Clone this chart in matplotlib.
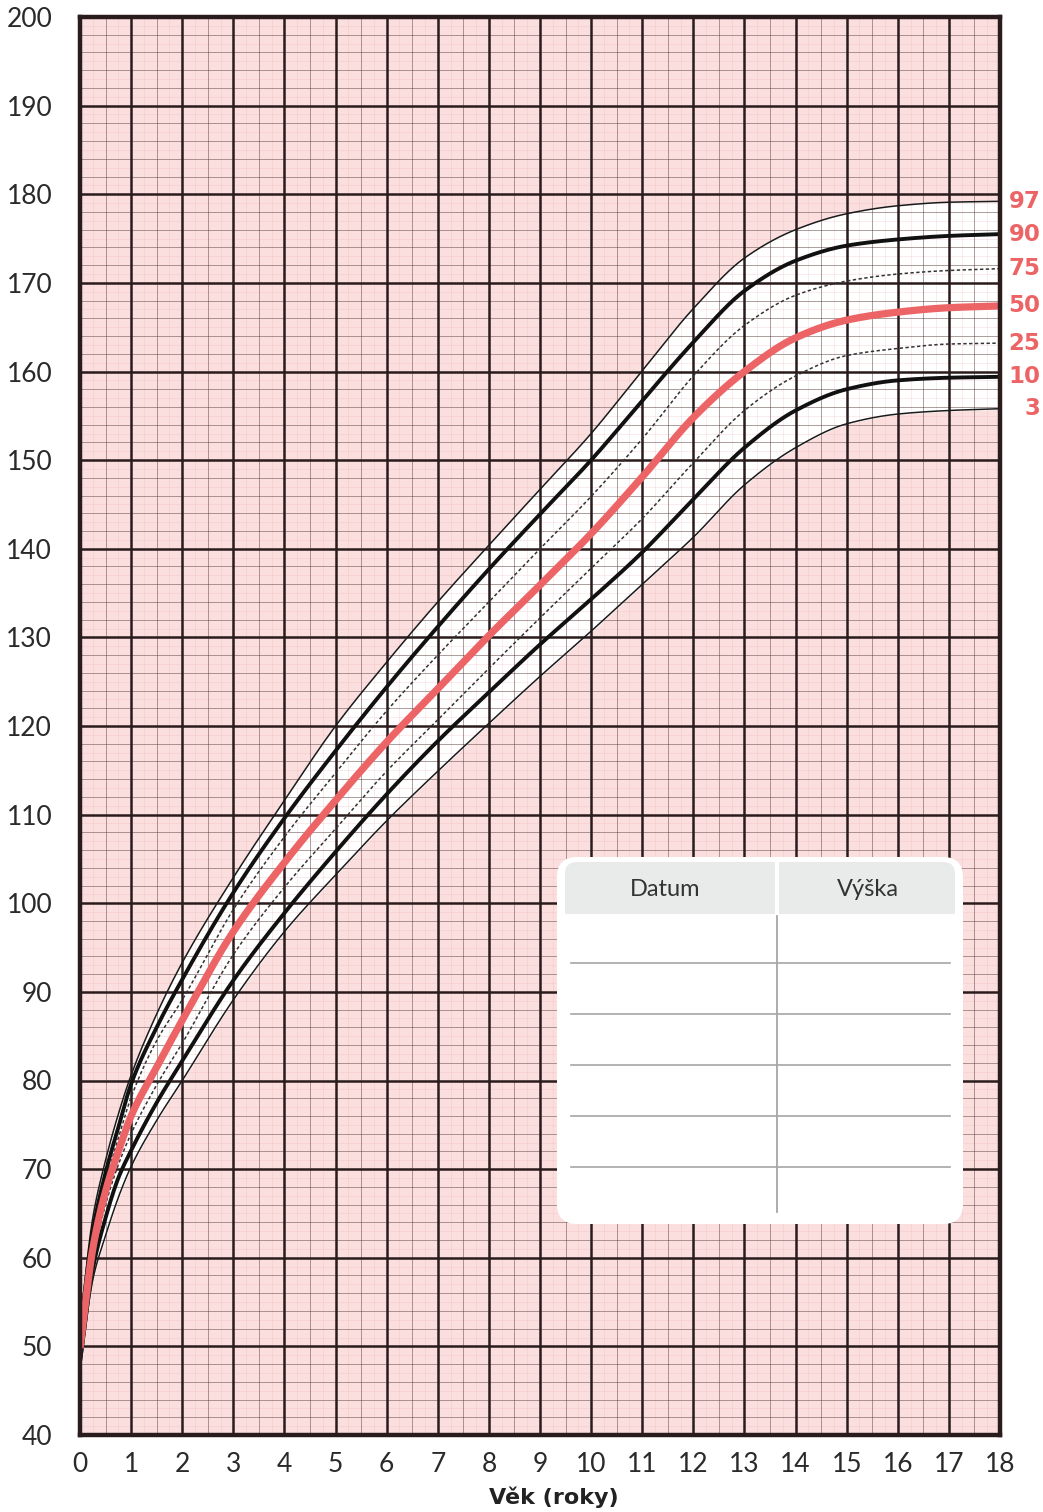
import numpy as np
import matplotlib.pyplot as plt
from matplotlib.patches import FancyBboxPatch, Rectangle

# percentile data (girls, height in cm)
ages = [0, 0.25, 0.5, 0.75, 1, 1.5, 2, 3, 4, 5, 6, 7, 8, 9, 10, 11, 12, 13, 14, 15, 16, 17, 18]
p97 = [52.5, 64.5, 71.0, 76.2, 80.6, 87.5, 93.3, 102.9, 111.6, 120.0, 127.2, 134.0, 140.4, 146.7, 153.0, 160.1, 167.1, 172.8, 176.0, 177.8, 178.7, 179.1, 179.2]
p90 = [51.5, 63.0, 69.6, 74.7, 79.6, 86.0, 91.4, 101.2, 109.6, 117.2, 124.4, 131.2, 137.7, 143.9, 150.0, 156.7, 163.3, 169.1, 172.5, 174.2, 174.9, 175.3, 175.5]
p75 = [50.8, 62.0, 68.5, 73.5, 78.1, 84.5, 89.1, 99.3, 107.5, 114.7, 121.7, 128.0, 134.0, 140.0, 145.9, 152.4, 159.5, 165.2, 168.6, 170.2, 171.0, 171.4, 171.6]
p50 = [49.8, 61.0, 67.5, 72.0, 76.0, 81.5, 86.8, 96.8, 104.6, 111.6, 118.2, 124.2, 130.2, 135.9, 141.7, 148.1, 154.8, 160.0, 163.8, 165.8, 166.7, 167.2, 167.4]
p25 = [49.0, 59.8, 66.0, 70.5, 74.0, 79.5, 84.2, 94.2, 101.8, 108.4, 114.9, 120.7, 126.5, 132.2, 137.8, 143.4, 149.7, 155.6, 159.5, 161.8, 162.6, 163.1, 163.2]
p10 = [48.2, 58.7, 64.5, 69.0, 72.1, 77.5, 82.2, 91.3, 98.9, 105.8, 112.3, 118.3, 123.8, 129.2, 134.3, 139.6, 145.6, 151.4, 155.6, 158.0, 159.0, 159.3, 159.4]
p3 = [47.3, 57.5, 62.5, 66.8, 70.3, 75.5, 80.0, 89.1, 96.8, 103.2, 109.3, 114.9, 120.3, 125.6, 130.7, 136.0, 141.3, 147.2, 151.4, 154.1, 155.2, 155.6, 155.8]
labels = ['97', '90', '75', '50', '25', '10', '3']

x_ticks = list(range(0, 19))
y_ticks = list(range(40, 201, 10))
table_headers = ['Datum', 'Výška']

RED = '#ec6466'
DARK = '#2a1c1c'


def pchip(x, y, xn):
    # monotone cubic so the curves stay smooth
    x = np.asarray(x, float)
    y = np.asarray(y, float)
    h = np.diff(x)
    d = np.diff(y) / h
    m = np.zeros(len(x))
    m[0] = d[0]
    m[-1] = d[-1]
    for k in range(1, len(x) - 1):
        if d[k - 1] * d[k] <= 0:
            m[k] = 0
        else:
            w1 = 2 * h[k] + h[k - 1]
            w2 = h[k] + 2 * h[k - 1]
            m[k] = (w1 + w2) / (w1 / d[k - 1] + w2 / d[k])
    idx = np.clip(np.searchsorted(x, xn) - 1, 0, len(x) - 2)
    t = (xn - x[idx]) / h[idx]
    h00 = 2 * t**3 - 3 * t**2 + 1
    h10 = t**3 - 2 * t**2 + t
    h01 = -2 * t**3 + 3 * t**2
    h11 = t**3 - t**2
    return h00 * y[idx] + h10 * h[idx] * m[idx] + h01 * y[idx + 1] + h11 * h[idx] * m[idx + 1]


fig = plt.figure(figsize=(10.43, 15.12), dpi=100)
ax = fig.add_axes([80 / 1043, 77 / 1512, 920 / 1043, 1418 / 1512])
ax.set_xlim(0, 18)
ax.set_ylim(40, 200)
ax.set_facecolor('#fbdfdf')

xs = np.linspace(0, 18, 900)
c97 = pchip(ages, p97, xs)
c3 = pchip(ages, p3, xs)
ax.fill_between(xs, c3, c97, color='white', zorder=1)

# grid: faint pink, minor and major lines
for v in np.arange(0, 18.01, 0.25):
    ax.axvline(v, color='#e9a9a9', lw=0.5, alpha=0.3, zorder=2)
for v in range(40, 201):
    ax.axhline(v, color='#e9a9a9', lw=0.5, alpha=0.3, zorder=2)
for v in np.arange(0.5, 18, 1):
    ax.axvline(v, color='#3a2a2a', lw=0.7, alpha=0.4, zorder=2)
for v in range(42, 200, 2):
    if v % 10:
        ax.axhline(v, color='#3a2a2a', lw=0.7, alpha=0.4, zorder=2)
for v in x_ticks:
    ax.axvline(v, color=DARK, lw=1.8, zorder=3)
for v in y_ticks:
    ax.axhline(v, color=DARK, lw=1.8, zorder=3)

# percentile curves
ax.plot(xs, c97, color='#1a1a1a', lw=1.1, zorder=5)
ax.plot(xs, pchip(ages, p90, xs), color='#111111', lw=2.8, zorder=5)
ax.plot(xs, pchip(ages, p75, xs), color='#333333', lw=1.1, ls=(0, (2.2, 1.6)), zorder=5)
ax.plot(xs, pchip(ages, p50, xs), color=RED, lw=5.2, solid_capstyle='butt', zorder=6)
ax.plot(xs, pchip(ages, p25, xs), color='#333333', lw=1.1, ls=(0, (2.2, 1.6)), zorder=5)
ax.plot(xs, pchip(ages, p10, xs), color='#111111', lw=2.8, zorder=5)
ax.plot(xs, c3, color='#1a1a1a', lw=1.1, zorder=5)

for lab, ser in zip(labels, [p97, p90, p75, p50, p25, p10, p3]):
    ax.annotate(lab, xy=(1, ser[-1]), xycoords=('axes fraction', 'data'),
                xytext=(29, 0), textcoords='offset points', ha='right', va='center',
                color=RED, fontsize=16.5, fontweight='bold', family='DejaVu Sans',
                annotation_clip=False)

for s in ax.spines.values():
    s.set_linewidth(3.2)
    s.set_color(DARK)
    s.set_zorder(8)
ax.set_xticks(x_ticks)
ax.set_yticks(y_ticks)
ax.tick_params(axis='x', length=0, labelsize=19, colors='#2a2a2a', pad=12)
ax.tick_params(axis='y', length=0, labelsize=19, colors='#2a2a2a', pad=20)
for t in ax.get_xticklabels() + ax.get_yticklabels():
    t.set_family('Lato')
ax.set_xlabel('Věk (roky)', fontsize=16, fontweight='bold', family='DejaVu Sans', color='#222222')
ax.xaxis.set_label_coords(474 / 920, -0.036)

# data-entry table drawn in pixel space
over = fig.add_axes([0, 0, 1, 1], zorder=10)
over.set_xlim(0, 1043)
over.set_ylim(1512, 0)
over.axis('off')
over.patch.set_alpha(0)
over.add_patch(FancyBboxPatch((557 + 20, 857 + 20), 406 - 40, 367 - 40,
                              boxstyle='round,pad=20', fc='white', ec='none'))
over.add_patch(FancyBboxPatch((565 + 12, 862 + 12), 390 - 24, 60,
                              boxstyle='round,pad=12', fc='#e9eaea', ec='none'))
over.add_patch(Rectangle((565, 890), 390, 24, fc='#e9eaea', ec='none'))
over.add_patch(Rectangle((565, 914), 390, 40, fc='white', ec='none'))
over.plot([777, 777], [860, 914], color='white', lw=3)
over.plot([777, 777], [916, 1212], color='#a6a6a6', lw=1.3)
for yy in [963, 1014, 1065, 1116, 1167]:
    over.plot([571, 950], [yy, yy], color='#a6a6a6', lw=1.2)
over.text(665, 890, table_headers[0], ha='center', va='center', fontsize=17,
          family='Lato', color='#333333')
over.text(868, 890, table_headers[1], ha='center', va='center', fontsize=17,
          family='Lato', color='#333333')

fig.savefig('out.png', dpi=100)
